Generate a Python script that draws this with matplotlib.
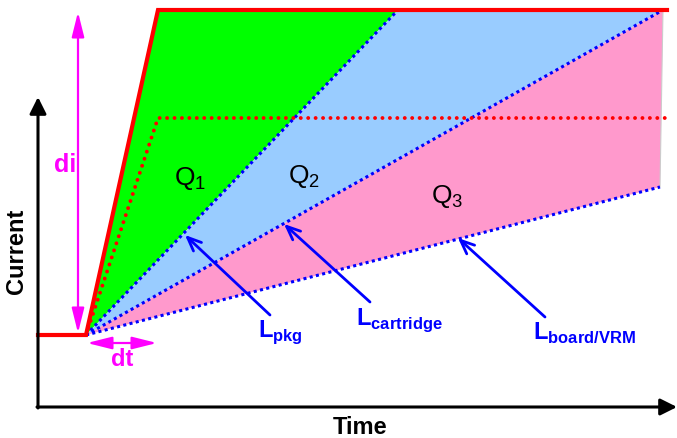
import matplotlib.pyplot as plt
from matplotlib.patches import Polygon

plt.rcParams['font.family'] = ['Liberation Sans', 'DejaVu Sans']
plt.rcParams['mathtext.fontset'] = 'custom'
plt.rcParams['mathtext.rm'] = 'Liberation Sans'
plt.rcParams['mathtext.bf'] = 'Liberation Sans:bold'

# diagram coordinates (pixel-like units, y grows downward)
t_axis = 38        # where the time axis starts
t_step = 86        # load step begins
t_rise = 158       # current reaches its final value
t_end = 665        # end of drawn window
i_low = 335        # initial current
i_high = 10        # final current
i_mid = 118        # dotted (slower) current level
axis_y = 407
axis_top = 97
axis_right = 677

# end points of the inductance limited ramps
L_names = ['pkg', 'cartridge', 'board/VRM']
L_end_x = [398, 663, 660]
L_end_y = [10, 10, 187]

# label arrows (tail -> head) and label positions
L_tail = [(270, 315), (370, 302), (545, 317)]
L_head = [(185, 235), (284, 224), (458, 238)]
L_label = [(258, 337), (356, 325), (533, 340)]

Q_names = ['1', '2', '3']
Q_pos = [(190, 178), (304, 176), (447, 197)]

fig = plt.figure(figsize=(6.77, 4.38), dpi=100)
ax = fig.add_axes([0, 0, 1, 1])
ax.set_xlim(0, 677)
ax.set_ylim(438, 0)
ax.axis('off')

start = (t_step, i_low)

# shaded charge regions
ax.add_patch(Polygon([start, (t_rise, i_high), (L_end_x[0], L_end_y[0])],
                     closed=True, facecolor='#00ff00', edgecolor='none'))
ax.add_patch(Polygon([start, (L_end_x[0], L_end_y[0]), (L_end_x[1], L_end_y[1])],
                     closed=True, facecolor='#99ccff', edgecolor='none'))
ax.add_patch(Polygon([start, (L_end_x[1], L_end_y[1]), (L_end_x[2], L_end_y[2])],
                     closed=True, facecolor='#ff99cc', edgecolor='none'))
ax.plot([L_end_x[1], L_end_x[2]], [L_end_y[1], L_end_y[2]], color='#cccccc', lw=0.8)

# inductance lines
for x, y in zip(L_end_x, L_end_y):
    ax.plot([t_step, x], [i_low, y], color='#0000ff', lw=2.2,
            linestyle=(0, (1, 1.1)))

# dotted slower current
ax.plot([t_step, t_rise, t_end], [i_low, i_mid, i_mid], color='#ff0000', lw=2.8,
        linestyle=(0, (0.01, 1.9)), dash_capstyle='round')

# load current
ax.plot([t_axis, t_step, t_rise, t_end + 2], [i_low, i_low, i_high, i_high],
        color='#ff0000', lw=3, solid_joinstyle='miter')

# axes
ax.annotate('', xy=(t_axis, axis_top), xytext=(t_axis, axis_y + 1),
            arrowprops=dict(arrowstyle='-|>,head_length=0.5,head_width=0.25',
                            mutation_scale=20, lw=2.2, color='k', shrinkA=0, shrinkB=0))
ax.annotate('', xy=(axis_right, axis_y), xytext=(t_axis - 1, axis_y),
            arrowprops=dict(arrowstyle='-|>,head_length=0.5,head_width=0.25',
                            mutation_scale=20, lw=2.2, color='k', shrinkA=0, shrinkB=0))
ax.text(17, 251, 'Current', rotation=90, ha='center', va='center',
        fontsize=17, fontweight='bold')
ax.text(360, 428, 'Time', ha='center', va='center', fontsize=17, fontweight='bold')

# di / dt markers
mag = '#ff00ff'
ax.annotate('', xy=(78, 12), xytext=(78, 333),
            arrowprops=dict(arrowstyle='<|-|>,head_length=1.0,head_width=0.25',
                            mutation_scale=15, lw=1.6, color=mag, shrinkA=0, shrinkB=0))
ax.annotate('', xy=(87, 343), xytext=(157, 343),
            arrowprops=dict(arrowstyle='<|-|>,head_length=1.0,head_width=0.25',
                            mutation_scale=15, lw=1.6, color=mag, shrinkA=0, shrinkB=0))
ax.text(65, 165, 'di', ha='center', va='center', fontsize=18, fontweight='bold',
        color=mag)
ax.text(122, 360, 'dt', ha='center', va='center', fontsize=17, fontweight='bold',
        color=mag)

# charge labels
for q, (x, y) in zip(Q_names, Q_pos):
    ax.text(x, y, r'Q$_{%s}$' % q, ha='center', va='center', fontsize=19)

# inductance labels with arrows
for name, tail, head, lab in zip(L_names, L_tail, L_head, L_label):
    ax.annotate('', xy=head, xytext=tail,
                arrowprops=dict(arrowstyle='->,head_length=0.7,head_width=0.3',
                                mutation_scale=14, lw=2, color='#0000ff',
                                shrinkA=0, shrinkB=0))
    ax.text(lab[0], lab[1], r'$\mathbf{L}_{\mathbf{%s}}$' % name, ha='left',
            va='baseline', fontsize=17, color='#0000ff')

fig.savefig('out.png', dpi=100)
